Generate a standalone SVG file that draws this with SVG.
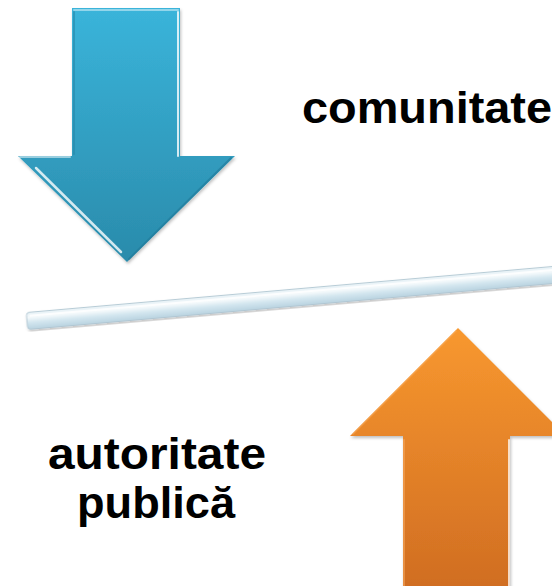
<svg xmlns="http://www.w3.org/2000/svg" width="552" height="586" viewBox="0 0 552 586">
  <defs>
    <linearGradient id="gBlue" x1="0" y1="0" x2="0" y2="1">
      <stop offset="0" stop-color="#3ab4da"/>
      <stop offset="1" stop-color="#2a8bab"/>
    </linearGradient>
    <linearGradient id="gOrange" x1="0" y1="0" x2="0" y2="1">
      <stop offset="0" stop-color="#f8982f"/>
      <stop offset="1" stop-color="#d06d22"/>
    </linearGradient>
    <linearGradient id="gBar" x1="0" y1="0" x2="0" y2="1">
      <stop offset="0" stop-color="#e6f1f6"/>
      <stop offset="0.3" stop-color="#f4f9fb"/>
      <stop offset="0.6" stop-color="#d3e6ef"/>
      <stop offset="1" stop-color="#b9d3e0"/>
    </linearGradient>
    <filter id="shadow" x="-10%" y="-10%" width="120%" height="120%">
      <feDropShadow dx="1" dy="2" stdDeviation="1.5" flood-color="#000" flood-opacity="0.25"/>
    </filter>
  </defs>
  <style>
    .lbl { font-family: "Liberation Sans", Arial, sans-serif; font-weight: bold; font-size: 45px; fill: #000; }
    .hi { fill: none; stroke: #ffffff; stroke-linecap: round; }
    .dk { fill: none; stroke-linecap: round; }
  </style>

  <g id="arrow-down">
    <polygon points="72,8 180,8 180,156 235,156 127,262 18,156 72,156" fill="url(#gBlue)" filter="url(#shadow)"/>
    <polyline class="hi" points="74,10 178,10" stroke-width="2" stroke-opacity="0.45"/>
    <polyline class="hi" points="178,12 178,156" stroke-width="2" stroke-opacity="0.8"/>
    <polyline class="hi" points="20,157 70,157" stroke-width="2" stroke-opacity="0.5"/>
    <polyline class="hi" points="36,168 121,252" stroke-width="2.5" stroke-opacity="0.8"/>
    <polyline class="dk" points="74,12 74,154" stroke="#2587a8" stroke-width="2" stroke-opacity="0.6"/>
    <polyline class="dk" points="231,158 129,259" stroke="#1f7898" stroke-width="2" stroke-opacity="0.6"/>
  </g>

  <g id="bar">
    <g transform="translate(27,321) rotate(-5)">
      <rect x="0" y="-8.5" width="545" height="17" rx="3" fill="url(#gBar)" stroke="#a9c2ce" stroke-width="0.8" filter="url(#shadow)"/>
      <line x1="3" y1="-5" x2="542" y2="-5" stroke="#ffffff" stroke-width="2" stroke-opacity="0.8"/>
    </g>
  </g>

  <g id="arrow-up">
    <polygon points="458,328 566,436 510,436 510,590 403,590 403,436 350,436" fill="url(#gOrange)" filter="url(#shadow)"/>
    <polyline class="hi" points="509,440 509,586" stroke-width="2" stroke-opacity="0.75"/>
    <polyline class="dk" points="404,440 404,586" stroke="#f5a55a" stroke-width="2" stroke-opacity="0.6"/>
    <polyline class="dk" points="353,434 456,331" stroke="#f9ab5c" stroke-width="1.5" stroke-opacity="0.6"/>
  </g>

  <g id="label-comunitate">
    <text class="lbl" x="302" y="123" textLength="250" lengthAdjust="spacingAndGlyphs">comunitate</text>
  </g>

  <g id="label-autoritate">
    <text class="lbl" x="48" y="469" textLength="218" lengthAdjust="spacingAndGlyphs">autoritate</text>
    <text class="lbl" x="77" y="518" textLength="158" lengthAdjust="spacingAndGlyphs">publică</text>
  </g>
</svg>
